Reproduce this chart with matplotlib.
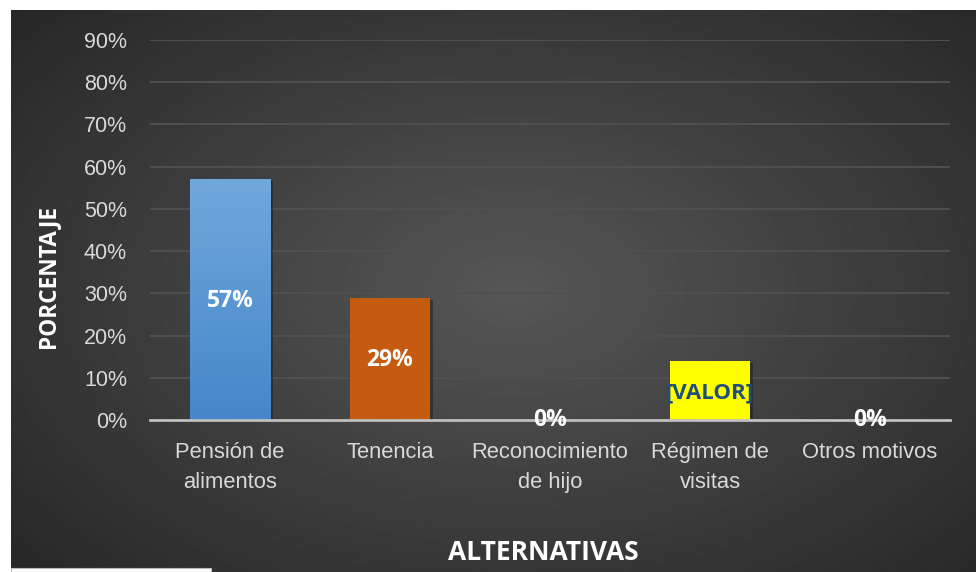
import numpy as np
import matplotlib
matplotlib.use('Agg')
from matplotlib import pyplot as plt
from matplotlib.patches import Rectangle

categories = ['Pensión de\nalimentos', 'Tenencia', 'Reconocimiento\nde hijo',
              'Régimen de\nvisitas', 'Otros motivos']
values = [0.57, 0.29, 0.0, 0.14, 0.0]
labels = ['57%', '29%', '0%', '[VALOR]', '0%']
colors = ['#5b9bd5', '#c55a11', '#a5a5a5', '#ffff00', '#4472c4']
yticks = np.arange(0, 1.0, 0.1)

W, H = 976, 572
fig = plt.figure(figsize=(W / 100, H / 100), dpi=100)
fig.patch.set_facecolor('white')

# dark panel with radial gradient
bg = fig.add_axes([11 / W, 0, (W - 11) / W, (H - 10) / H])
yy, xx = np.mgrid[0:1:300j, 0:1:500j]
r = np.sqrt(((xx - 0.52) / 0.75) ** 2 + ((yy - 0.5) / 0.8) ** 2)
shade = np.clip(0.34 - 0.2 * r, 0.14, 0.34)
bg.imshow(shade, cmap='gray', vmin=0, vmax=1, aspect='auto', extent=[0, 1, 0, 1])
bg.set_axis_off()
fig.patches.append(Rectangle((11 / W, 0), 200 / W, 4 / H, transform=fig.transFigure,
                             facecolor='white', edgecolor='#bbbbbb', lw=0.8, zorder=5))

ax = fig.add_axes([150 / W, 1 - 420 / H, 800 / W, 380 / H])
ax.set_facecolor('none')
x = np.arange(len(categories))
bars = ax.bar(x, values, width=0.505, color=colors, zorder=3)

# gradient fill on the blue bar
top_col = np.array([0.44, 0.66, 0.86])
bot_col = np.array([0.27, 0.53, 0.79])
g = np.linspace(0, 1, 100)[:, None, None]
grad = top_col * (1 - g) + bot_col * g
grad = np.repeat(grad, 2, axis=1)
b0 = bars[0]
im = ax.imshow(grad, extent=[b0.get_x(), b0.get_x() + b0.get_width(), 0, b0.get_height()],
               aspect='auto', zorder=3.5)
im.set_clip_path(b0)

# soft shadows
for b in bars:
    if b.get_height() > 0:
        ax.add_patch(Rectangle((b.get_x() + 0.015, -0.005), b.get_width(), b.get_height(),
                               facecolor='black', alpha=0.3, lw=0, zorder=2.5))

ax.set_xlim(-0.5, 4.5)
ax.set_ylim(0, 0.9)
ax.set_yticks(yticks)
ax.set_yticklabels([f'{int(round(v * 100))}%' for v in yticks])
ax.set_xticks(x)
ax.set_xticklabels(categories, linespacing=1.55)
ax.grid(axis='y', color='#505050', lw=1.4, zorder=1)
ax.set_axisbelow(True)
for s in ['top', 'right', 'left']:
    ax.spines[s].set_visible(False)
ax.spines['bottom'].set_color('#bfbfbf')
ax.spines['bottom'].set_linewidth(2)
ax.spines['bottom'].set_zorder(4)
ax.tick_params(axis='both', length=0, colors='#d9d9d9')
ax.tick_params(axis='y', pad=16.5, labelsize=15.5)
ax.tick_params(axis='x', pad=16, labelsize=15.8)
for t in ax.get_xticklabels() + ax.get_yticklabels():
    t.set_fontfamily('Liberation Sans')

for i, (v, lab) in enumerate(zip(values, labels)):
    if lab == '[VALOR]':
        ax.text(i, v / 2 - 0.005, lab, ha='center', va='center', fontsize=16,
                fontweight='bold', color='#1f4e79', family='Open Sans', zorder=6)
    elif v > 0:
        ax.text(i, v / 2 - 0.004, lab, ha='center', va='center',
                fontsize=16.5, fontweight='bold', color='white', family='Open Sans', zorder=6)
    else:
        ax.text(i, 0.0, lab, ha='center', va='center', fontsize=16.5,
                fontweight='bold', color='white', family='Open Sans', zorder=6)

fig.text(543 / W, 1 - 552 / H, 'ALTERNATIVAS', ha='center', va='center', fontsize=19,
         fontweight='bold', color='white', family='Open Sans')
fig.text(48 / W, 1 - 276 / H, 'PORCENTAJE', ha='center', va='center', fontsize=16.3,
         fontweight='bold', color='white', family='Open Sans', rotation=90)

plt.savefig('out.png', dpi=100)
